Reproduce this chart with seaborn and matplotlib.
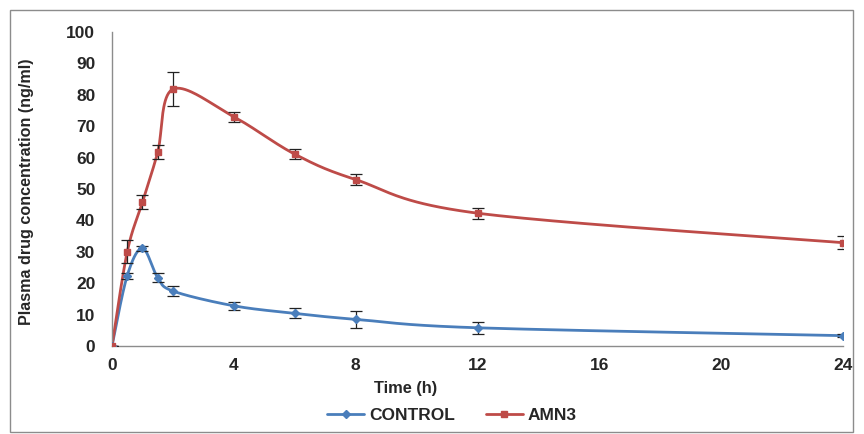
import numpy as np
import pandas as pd
import matplotlib
matplotlib.use("Agg")
import matplotlib.pyplot as plt
import seaborn as sns
from matplotlib.patches import Rectangle
from matplotlib.lines import Line2D

time_h = [0, 0.5, 1, 1.5, 2, 4, 6, 8, 12, 24]
control = [0, 22.4, 31.1, 21.8, 17.5, 12.8, 10.4, 8.5, 5.8, 3.3]
control_err = [0, 1.0, 0.7, 1.5, 1.6, 1.2, 1.6, 2.8, 2.0, 0.5]
amn3 = [0, 30.0, 45.8, 61.7, 81.8, 73.0, 61.1, 53.0, 42.3, 32.9]
amn3_err = [0, 3.6, 2.3, 2.3, 5.5, 1.6, 1.7, 1.7, 1.7, 2.0]
x_ticks = [0, 4, 8, 12, 16, 20, 24]
y_ticks = [0, 10, 20, 30, 40, 50, 60, 70, 80, 90, 100]

sns.set_theme(style="white")
plt.rcParams['font.family'] = ['Liberation Sans', 'DejaVu Sans']

fig = plt.figure(figsize=(8.64, 4.34), dpi=100)
ax = fig.add_axes([112/864, 1-346/434, (843-112)/864, (346-32)/434])

# outer frame
fig.patches.append(Rectangle((10/864, 2/434), 843/864, 422/434, transform=fig.transFigure,
                             fill=False, edgecolor="#8c8c8c", linewidth=1.0))

def smooth(xs, ys, sx=731/24, sy=314/100, n=40):
    P = np.column_stack([np.array(xs) * sx, np.array(ys) * sy])
    out = []
    for i in range(len(P) - 1):
        p0 = P[i-1] if i > 0 else P[i]
        p1, p2 = P[i], P[i+1]
        p3 = P[i+2] if i + 2 < len(P) else P[i+1]
        c1 = p1 + (p2 - p0) / 6
        c2 = p2 - (p3 - p1) / 6
        t = np.linspace(0, 1, n)[:, None]
        seg = (1-t)**3 * p1 + 3*(1-t)**2*t*c1 + 3*(1-t)*t**2*c2 + t**3*p2
        out.append(seg if i == 0 else seg[1:])
    S = np.vstack(out)
    return S[:, 0] / sx, S[:, 1] / sy

blue = "#4A7EBB"
red = "#BE4B48"

for ys, errs, col, mk, ms, name in [(control, control_err, blue, "D", 4.5, "CONTROL"),
                                    (amn3, amn3_err, red, "s", 5, "AMN3")]:
    sx_, sy_ = smooth(time_h, ys)
    df = pd.DataFrame({"t": sx_, "c": sy_})
    sns.lineplot(data=df, x="t", y="c", ax=ax, color=col, linewidth=2, sort=False,
                 estimator=None, label=name, marker=None)
    ax.errorbar(time_h, ys, yerr=errs, fmt="none", ecolor="#222222", elinewidth=0.9,
                capsize=4, capthick=0.9, zorder=4)
    ax.plot(time_h, ys, linestyle="none", marker=mk, markersize=ms, color=col, zorder=5)

ax.get_legend().remove()
handles = [Line2D([], [], color=blue, lw=2, marker="D", markersize=4),
           Line2D([], [], color=red, lw=2, marker="s", markersize=4)]
fig.legend(handles, ["CONTROL", "AMN3"], loc="center", bbox_to_anchor=(452/864, 1-415/434),
           ncol=2, frameon=False, prop={"weight": "bold", "size": 12.5},
           handlelength=2.1, columnspacing=1.8, handletextpad=0.3)

ax.set_xlim(0, 24)
ax.set_ylim(0, 100)
ax.set_xticks(x_ticks)
ax.set_yticks(y_ticks)
ax.set_xticklabels([str(v) for v in x_ticks], fontweight="bold", fontsize=12.5)
ax.set_yticklabels([str(v) for v in y_ticks], fontweight="bold", fontsize=12.5)
ax.tick_params(axis="y", length=0, pad=12)
ax.tick_params(axis="x", length=0, pad=9)
for s in ["top", "right"]:
    ax.spines[s].set_visible(False)
for s in ["left", "bottom"]:
    ax.spines[s].set_color("#8c8c8c")
    ax.spines[s].set_linewidth(1.0)

ax.set_xlabel("Time (h)", fontweight="bold", fontsize=11.8)
ax.xaxis.set_label_coords((406-112)/731, (346-381)/314)
ax.set_ylabel("Plasma drug concentration (ng/ml)", fontweight="bold", fontsize=11.6)
ax.yaxis.set_label_coords((34-112)/731, (346-192)/314)

fig.savefig("out.png", dpi=100)
